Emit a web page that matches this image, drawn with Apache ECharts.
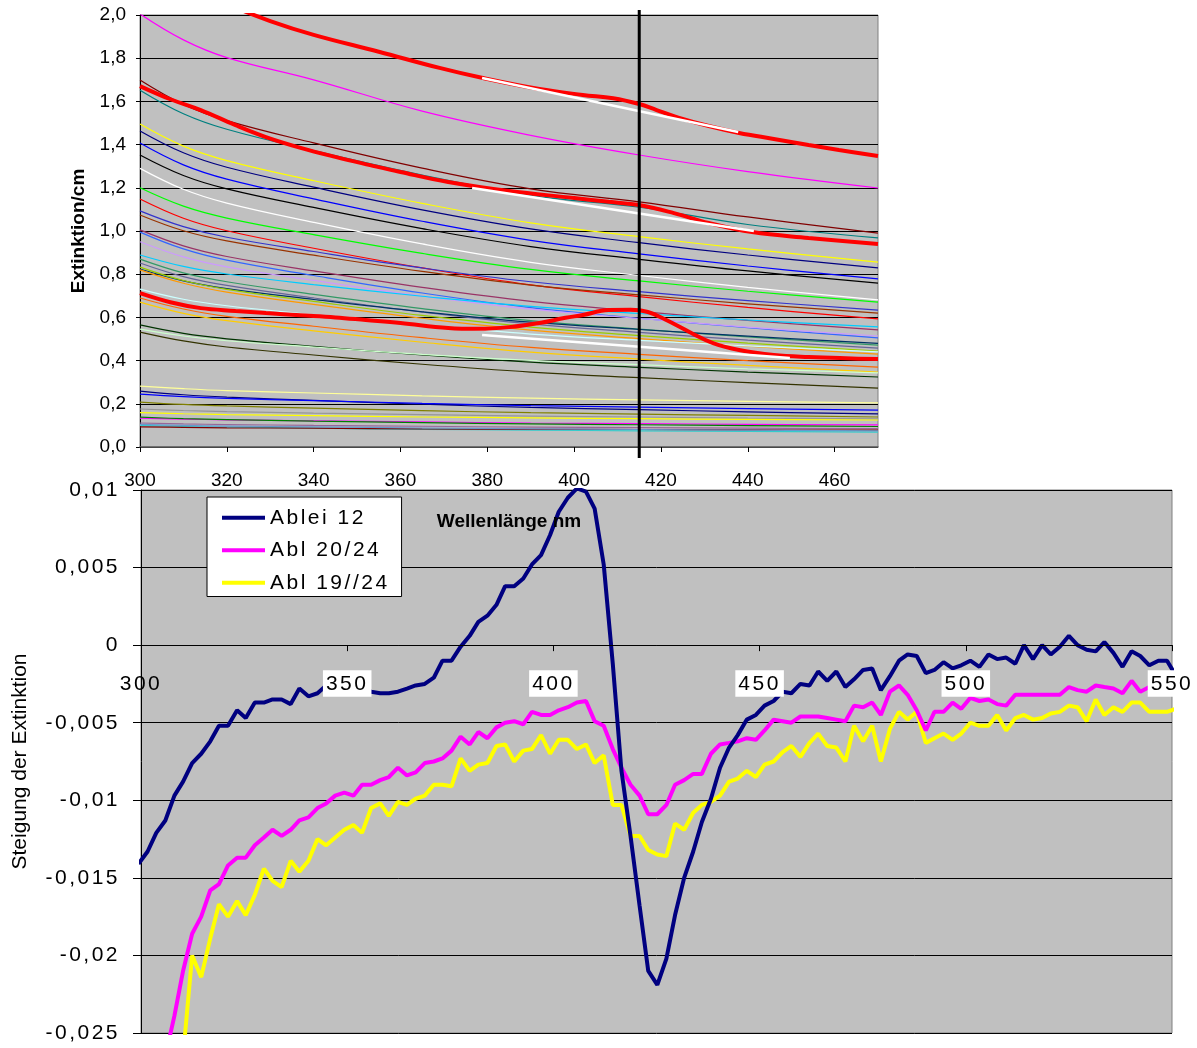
<!DOCTYPE html>
<html><head><meta charset="utf-8">
<script src="https://cdn.jsdelivr.net/npm/echarts@6/dist/echarts.min.js"></script>
<style>html,body{margin:0;padding:0;background:#fff}#c{width:1197px;height:1048px}</style>
</head><body><div id="c"></div>
<script>
// Letter-spaced text for fonts declared with the "sans-serif" fallback (bottom chart texts)
(function () {
  const P = CanvasRenderingContext2D.prototype;
  const setLS = function (ctx) {
    if (!('letterSpacing' in ctx)) return;
    ctx.letterSpacing = /sans-serif/.test(ctx.font) ? '2.5px' : '0px';
  };
  ['fillText', 'strokeText', 'measureText'].forEach(function (fn) {
    const orig = P[fn];
    P[fn] = function () { setLS(this); return orig.apply(this, arguments); };
  });
})();

// ---------------- DATA: upper chart (Extinktion/cm) ----------------
const topX = [300, 310, 320, 340, 365, 390, 415, 440, 470];
const ext01 = [2.005, 1.885, 1.803, 1.700, 1.555, 1.443, 1.352, 1.275, 1.199];
const ext02 = [1.699, 1.586, 1.511, 1.408, 1.291, 1.195, 1.135, 1.065, 0.990];
const ext03 = [1.652, 1.543, 1.471, 1.372, 1.259, 1.165, 1.110, 1.030, 0.968];
const ext04 = [1.495, 1.393, 1.326, 1.233, 1.128, 1.038, 0.974, 0.917, 0.856];
const ext05 = [1.463, 1.362, 1.295, 1.203, 1.098, 1.010, 0.946, 0.889, 0.829];
const ext06 = [1.407, 1.306, 1.240, 1.149, 1.045, 0.957, 0.894, 0.838, 0.778];
const ext07 = [1.352, 1.257, 1.195, 1.109, 1.011, 0.928, 0.869, 0.815, 0.759];
const ext08 = [1.290, 1.193, 1.129, 1.040, 0.940, 0.855, 0.794, 0.739, 0.681];
const ext09 = [1.200, 1.115, 1.060, 0.983, 0.896, 0.822, 0.769, 0.721, 0.671];
const ext10 = [1.148, 1.059, 1.001, 0.920, 0.829, 0.751, 0.696, 0.646, 0.593];
const ext11 = [1.093, 1.020, 0.971, 0.905, 0.829, 0.765, 0.719, 0.678, 0.634];
const ext12 = [1.074, 1.001, 0.954, 0.888, 0.813, 0.749, 0.704, 0.663, 0.620];
const ext13 = [1.005, 0.931, 0.882, 0.815, 0.739, 0.674, 0.628, 0.586, 0.542];
const ext14 = [0.995, 0.917, 0.865, 0.794, 0.713, 0.645, 0.596, 0.552, 0.505];
const ext15 = [0.950, 0.880, 0.834, 0.771, 0.699, 0.638, 0.595, 0.555, 0.514];
const ext16 = [0.889, 0.836, 0.801, 0.752, 0.698, 0.651, 0.618, 0.588, 0.556];
const ext17 = [0.870, 0.806, 0.765, 0.707, 0.641, 0.585, 0.546, 0.510, 0.472];
const ext18 = [0.852, 0.789, 0.748, 0.690, 0.625, 0.570, 0.531, 0.495, 0.458];
const ext19 = [0.824, 0.769, 0.733, 0.683, 0.626, 0.578, 0.544, 0.513, 0.480];
const ext20 = [0.833, 0.771, 0.730, 0.674, 0.609, 0.555, 0.516, 0.481, 0.444];
const ext21 = [0.820, 0.758, 0.717, 0.660, 0.596, 0.541, 0.502, 0.467, 0.430];
const ext22 = [0.731, 0.684, 0.654, 0.612, 0.564, 0.523, 0.494, 0.468, 0.440];
const ext23 = [0.690, 0.639, 0.605, 0.559, 0.506, 0.461, 0.429, 0.400, 0.370];
const ext24 = [0.671, 0.619, 0.585, 0.538, 0.485, 0.439, 0.407, 0.378, 0.347];
const ext25 = [0.565, 0.526, 0.501, 0.466, 0.426, 0.393, 0.369, 0.347, 0.324];
const ext26 = [0.546, 0.514, 0.492, 0.463, 0.429, 0.401, 0.381, 0.362, 0.343];
const ext27 = [0.532, 0.491, 0.463, 0.426, 0.383, 0.347, 0.321, 0.298, 0.273];
const ext28 = [0.282, 0.270, 0.261, 0.250, 0.237, 0.226, 0.218, 0.211, 0.204];
const ext29 = [0.259, 0.242, 0.231, 0.216, 0.198, 0.183, 0.173, 0.163, 0.153];
const ext30 = [0.245, 0.233, 0.225, 0.215, 0.202, 0.192, 0.185, 0.178, 0.171];
const ext31 = [0.208, 0.197, 0.190, 0.180, 0.168, 0.159, 0.152, 0.146, 0.139];
const ext32 = [0.176, 0.169, 0.164, 0.157, 0.150, 0.143, 0.139, 0.134, 0.130];
const ext33 = [0.159, 0.154, 0.150, 0.145, 0.139, 0.135, 0.131, 0.128, 0.125];
const ext34 = [0.134, 0.129, 0.126, 0.121, 0.116, 0.111, 0.108, 0.105, 0.102];
const ext35 = [0.138, 0.131, 0.127, 0.120, 0.113, 0.107, 0.103, 0.099, 0.095];
const ext36 = [0.111, 0.107, 0.104, 0.100, 0.096, 0.092, 0.090, 0.087, 0.085];
const ext37 = [0.100, 0.095, 0.092, 0.087, 0.082, 0.078, 0.075, 0.072, 0.069];
const ext38 = [0.093, 0.091, 0.089, 0.087, 0.084, 0.082, 0.081, 0.079, 0.078];
const ext39 = [0.105, 0.100, 0.097, 0.093, 0.088, 0.084, 0.081, 0.078, 0.075];
const thinCurves = [ext01, ext02, ext03, ext04, ext05, ext06, ext07, ext08, ext09, ext10,
  ext11, ext12, ext13, ext14, ext15, ext16, ext17, ext18, ext19, ext20,
  ext21, ext22, ext23, ext24, ext25, ext26, ext27, ext28, ext29, ext30,
  ext31, ext32, ext33, ext34, ext35, ext36, ext37, ext38, ext39];
const thinColors = ['#FF00FF', '#800000', '#008080', '#FFFF00', '#000080', '#0000FF', '#000000', '#FFFFFF', '#00FF00', '#FF0000',
  '#3333CC', '#993300', '#993366', '#3366FF', '#CC99FF', '#00CCFF', '#339966', '#666699', '#003366', '#99CC00',
  '#FF9900', '#CCFFFF', '#FF6600', '#FFCC00', '#003300', '#CCFFCC', '#333300', '#FFFF99', '#000080', '#0000FF',
  '#808000', '#969696', '#FFFF00', '#FF00FF', '#008000', '#996699', '#33CCCC', '#800000', '#6699CC'];

const red1X = [300, 310, 320, 330, 340, 355, 369, 379, 392, 402, 409, 415, 419, 424, 431, 438, 446, 454, 461, 470];
const red1Y = [2.24, 2.135, 2.05, 1.972, 1.908, 1.83, 1.755, 1.708, 1.657, 1.630, 1.615, 1.588, 1.560, 1.525, 1.486, 1.454, 1.426, 1.398, 1.375, 1.347];
const red2X = [300, 307, 314, 322, 329, 337, 345, 353, 360, 371, 385, 400, 408, 415, 423, 431, 441, 454, 470];
const red2Y = [1.671, 1.61, 1.56, 1.49, 1.435, 1.385, 1.343, 1.305, 1.273, 1.227, 1.185, 1.153, 1.135, 1.12, 1.083, 1.037, 0.995, 0.968, 0.94];
const red3X = [300, 307, 314, 322, 329, 337, 345, 352, 360, 371, 378, 385, 392, 398, 402, 408, 413, 417, 421, 427, 432, 438, 446, 454, 470];
const red3Y = [0.712, 0.67, 0.643, 0.63, 0.62, 0.61, 0.60, 0.588, 0.574, 0.551, 0.547, 0.555, 0.574, 0.598, 0.611, 0.634, 0.635, 0.625, 0.590, 0.528, 0.481, 0.449, 0.426, 0.417, 0.407];

const chordX = [[378.8, 437.8], [376.5, 441.4], [378.8, 449.7]];
const chordY = [[1.708, 1.458], [1.199, 1.000], [0.518, 0.412]];
const markerWavelength = 415;

// ---------------- DATA: lower chart (Steigung der Extinktion) ----------------
const wavelength = [299.4, 301.6, 303.7, 305.9, 308.1, 310.2, 312.4, 314.6, 316.8, 318.9,
  321.1, 323.3, 325.4, 327.6, 329.8, 331.9, 334.1, 336.3, 338.4, 340.6,
  342.8, 344.9, 347.1, 349.3, 351.5, 353.6, 355.8, 358.0, 360.1, 362.3,
  364.5, 366.6, 368.8, 371.0, 373.1, 375.3, 377.5, 379.7, 381.8, 384.0,
  386.2, 388.3, 390.5, 392.7, 394.8, 397.0, 399.2, 401.3, 403.5, 405.7,
  407.9, 410.0, 412.2, 414.4, 416.5, 418.7, 420.9, 423.0, 425.2, 427.4,
  429.5, 431.7, 433.9, 436.0, 438.2, 440.4, 442.6, 444.7, 446.9, 449.1,
  451.2, 453.4, 455.6, 457.7, 459.9, 462.1, 464.2, 466.4, 468.6, 470.8,
  472.9, 475.1, 477.3, 479.4, 481.6, 483.8, 485.9, 488.1, 490.3, 492.4,
  494.6, 496.8, 498.9, 501.1, 503.3, 505.5, 507.6, 509.8, 512.0, 514.1,
  516.3, 518.5, 520.6, 522.8, 525.0, 527.1, 529.3, 531.5, 533.6, 535.8,
  538.0, 540.2, 542.3, 544.5, 546.7, 548.8, 551.0];
const ablei12 = [-0.0141, -0.0133, -0.0121, -0.0113, -0.0097, -0.0088, -0.0076, -0.0070, -0.0062, -0.0052,
  -0.0052, -0.0042, -0.0047, -0.0037, -0.0037, -0.0035, -0.0035, -0.0038, -0.0028, -0.0033,
  -0.0031, -0.0026, -0.0025, -0.0026, -0.0027, -0.0028, -0.0030, -0.0031, -0.0031, -0.0030,
  -0.0028, -0.0026, -0.0025, -0.0021, -0.0010, -0.0010, -0.0001, 0.0006, 0.0015, 0.0019,
  0.0026, 0.0038, 0.0038, 0.0043, 0.0052, 0.0058, 0.0071, 0.0086, 0.0095, 0.0101,
  0.0099, 0.0088, 0.0052, -0.0012, -0.0081, -0.0123, -0.0168, -0.0210, -0.0219, -0.0202,
  -0.0174, -0.0150, -0.0133, -0.0114, -0.0099, -0.0079, -0.0066, -0.0058, -0.0048, -0.0045,
  -0.0039, -0.0036, -0.0030, -0.0031, -0.0025, -0.0026, -0.0017, -0.0023, -0.0017, -0.0027,
  -0.0022, -0.0016, -0.0015, -0.0029, -0.0020, -0.0010, -0.0006, -0.0007, -0.0018, -0.0016,
  -0.0011, -0.0015, -0.0013, -0.0010, -0.0014, -0.0006, -0.0009, -0.0008, -0.0012, 0.0000,
  -0.0009, 0.0000, -0.0006, -0.0001, 0.0006, 0.0000, -0.0003, -0.0004, 0.0002, -0.0005,
  -0.0014, -0.0004, -0.0007, -0.0013, -0.0010, -0.0010, -0.0020];
const abl2024 = [-0.0350, -0.0320, -0.0290, -0.0265, -0.0239, -0.0210, -0.0186, -0.0175, -0.0158, -0.0154,
  -0.0142, -0.0137, -0.0137, -0.0129, -0.0124, -0.0119, -0.0123, -0.0119, -0.0113, -0.0111,
  -0.0105, -0.0102, -0.0097, -0.0095, -0.0097, -0.0090, -0.0090, -0.0087, -0.0085, -0.0079,
  -0.0084, -0.0082, -0.0076, -0.0075, -0.0073, -0.0068, -0.0059, -0.0064, -0.0056, -0.0060,
  -0.0053, -0.0050, -0.0049, -0.0051, -0.0043, -0.0045, -0.0045, -0.0042, -0.0040, -0.0037,
  -0.0036, -0.0049, -0.0052, -0.0067, -0.0079, -0.0090, -0.0097, -0.0109, -0.0109, -0.0103,
  -0.0090, -0.0087, -0.0083, -0.0083, -0.0070, -0.0064, -0.0063, -0.0062, -0.0060, -0.0061,
  -0.0055, -0.0048, -0.0049, -0.0050, -0.0046, -0.0046, -0.0046, -0.0047, -0.0048, -0.0049,
  -0.0039, -0.0040, -0.0037, -0.0045, -0.0030, -0.0026, -0.0032, -0.0042, -0.0055, -0.0043,
  -0.0043, -0.0037, -0.0041, -0.0034, -0.0036, -0.0035, -0.0038, -0.0039, -0.0032, -0.0032,
  -0.0032, -0.0032, -0.0032, -0.0032, -0.0027, -0.0029, -0.0030, -0.0026, -0.0027, -0.0028,
  -0.0031, -0.0023, -0.0030, -0.0027, -0.0030, -0.0026, -0.0025];
const abl1924 = [-0.0400, -0.0370, -0.0340, -0.0310, -0.0285, -0.0265, -0.0200, -0.0214, -0.0189, -0.0167,
  -0.0175, -0.0165, -0.0174, -0.0161, -0.0144, -0.0152, -0.0156, -0.0139, -0.0146, -0.0139,
  -0.0125, -0.0129, -0.0124, -0.0119, -0.0116, -0.0121, -0.0105, -0.0102, -0.0110, -0.0101,
  -0.0103, -0.0099, -0.0097, -0.0090, -0.0090, -0.0091, -0.0073, -0.0081, -0.0077, -0.0076,
  -0.0065, -0.0064, -0.0075, -0.0068, -0.0067, -0.0058, -0.0070, -0.0061, -0.0061, -0.0067,
  -0.0064, -0.0076, -0.0071, -0.0103, -0.0103, -0.0123, -0.0123, -0.0132, -0.0135, -0.0136,
  -0.0115, -0.0119, -0.0108, -0.0103, -0.0101, -0.0097, -0.0088, -0.0086, -0.0081, -0.0085,
  -0.0077, -0.0075, -0.0069, -0.0065, -0.0072, -0.0063, -0.0057, -0.0065, -0.0066, -0.0075,
  -0.0052, -0.0062, -0.0052, -0.0075, -0.0054, -0.0043, -0.0048, -0.0043, -0.0063, -0.0060,
  -0.0057, -0.0061, -0.0057, -0.0050, -0.0052, -0.0052, -0.0045, -0.0055, -0.0047, -0.0045,
  -0.0048, -0.0047, -0.0044, -0.0043, -0.0039, -0.0040, -0.0049, -0.0035, -0.0045, -0.0040,
  -0.0043, -0.0037, -0.0037, -0.0043, -0.0043, -0.0043, -0.0041];
const seriesNames = ['Ablei 12', 'Abl 20/24', 'Abl 19//24'];
const seriesColors = ['#000080', '#FF00FF', '#FFFF00'];

// ---------------- CHART ----------------
const NORMAL = 'Liberation Sans';
const SPACED = 'Liberation Sans, sans-serif';
const zip = (xs, ys) => xs.map((x, i) => [x, ys[i]]);

const series = [];
thinCurves.forEach((c, i) => {
  series.push({ type: 'line', xAxisIndex: 0, yAxisIndex: 0, data: zip(topX, c), showSymbol: false,
    smooth: 0.4, silent: true, lineStyle: { width: 1.2, color: thinColors[i] }, z: 2 });
});
[[red1X, red1Y], [red2X, red2Y], [red3X, red3Y]].forEach(([xs, ys]) => {
  series.push({ type: 'line', xAxisIndex: 0, yAxisIndex: 0, data: zip(xs, ys), showSymbol: false,
    smooth: 0.4, silent: true, lineStyle: { width: 4, color: '#FF0000' }, z: 3 });
});
chordX.forEach((xs, i) => {
  series.push({ type: 'line', xAxisIndex: 0, yAxisIndex: 0, data: zip(xs, chordY[i]), showSymbol: false,
    silent: true, lineStyle: { width: 2.5, color: '#FFFFFF' }, z: 4 });
});
[ablei12, abl2024, abl1924].forEach((vals, i) => {
  series.push({ name: seriesNames[i], type: 'line', xAxisIndex: 1, yAxisIndex: 1, data: zip(wavelength, vals),
    showSymbol: false, color: seriesColors[i], lineStyle: { width: 4, color: seriesColors[i] }, z: 3 - i * 0.1 });
});

const fmtComma = v => parseFloat(v.toFixed(4)).toString().replace('.', ',');

const option = {
  animation: false,
  textStyle: { fontFamily: NORMAL },
  grid: [
    { left: 140, top: 15, width: 738, height: 432, show: true, backgroundColor: '#C0C0C0', borderColor: '#808080', borderWidth: 1, containLabel: false, outerBoundsMode: 'none' },
    { left: 141, top: 490, width: 1031, height: 543, show: true, backgroundColor: '#C0C0C0', borderColor: '#808080', borderWidth: 1, containLabel: false, outerBoundsMode: 'none' }
  ],
  legend: {
    data: seriesNames, orient: 'vertical', left: 207, top: 497, icon: 'rect', itemWidth: 43, itemHeight: 4,
    itemGap: 9, padding: [9, 12, 2, 15], backgroundColor: '#FFFFFF', borderColor: '#000000', borderWidth: 1,
    textStyle: { fontSize: 21, fontFamily: SPACED, color: '#000' }, selectedMode: false, z: 20
  },
  xAxis: [
    { gridIndex: 0, type: 'value', min: 300, max: 470, interval: 20, z: 10,
      name: 'Wellenlänge nm', nameLocation: 'middle', nameGap: 65,
      nameTextStyle: { fontFamily: NORMAL, fontWeight: 'bold', fontSize: 19, color: '#000' },
      axisLine: { show: true, onZero: false, lineStyle: { color: '#606060', width: 1.5 } },
      axisTick: { show: true, length: 5, lineStyle: { color: '#000' } },
      axisLabel: { margin: 24, fontSize: 19, color: '#000', showMaxLabel: false },
      splitLine: { show: false } },
    { gridIndex: 1, type: 'value', min: 300, max: 550, interval: 50, z: 10, position: 'bottom', offset: 0,
      axisLine: { show: true, onZero: false, lineStyle: { color: '#000' } },
      axisTick: { show: true, length: 6, lineStyle: { color: '#000' } },
      axisLabel: { margin: 25, fontSize: 21, fontFamily: SPACED, color: '#000',
        formatter: v => (v === 300 ? '{p|' + v + '}' : '{b|' + v + '}'),
        rich: {
          p: { fontSize: 21, fontFamily: SPACED, color: '#000', padding: [2, 3, 1, 3] },
          b: { fontSize: 21, fontFamily: SPACED, color: '#000', padding: [2, 3, 1, 3], backgroundColor: '#FFFFFF' }
        } },
      splitLine: { show: false } }
  ],
  yAxis: [
    { gridIndex: 0, type: 'value', min: 0, max: 2, interval: 0.2,
      name: 'Extinktion/cm', nameLocation: 'middle', nameGap: 50,
      nameTextStyle: { fontFamily: NORMAL, fontWeight: 'bold', fontSize: 19, color: '#000' },
      axisLine: { show: true, onZero: false, lineStyle: { color: '#000' } },
      axisTick: { show: true, length: 4, lineStyle: { color: '#000' } },
      axisLabel: { margin: 14, fontSize: 19, color: '#000', formatter: v => v.toFixed(1).replace('.', ',') },
      splitLine: { show: true, lineStyle: { color: '#000', width: 1 } } },
    { gridIndex: 1, type: 'value', min: -0.025, max: 0.01, interval: 0.005,
      name: 'Steigung der Extinktion', nameLocation: 'middle', nameGap: 110,
      nameTextStyle: { fontFamily: NORMAL, fontSize: 21, color: '#000' },
      axisLine: { show: true, onZero: false, lineStyle: { color: '#000' } },
      axisTick: { show: true, length: 8, lineStyle: { color: '#000' } },
      axisLabel: { margin: 21, fontSize: 21, fontFamily: SPACED, color: '#000', formatter: fmtComma },
      splitLine: { show: true, lineStyle: { color: '#000', width: 1 } } }
  ],
  series: series
};

const chart = echarts.init(document.getElementById('c'), null, { renderer: 'canvas' });
chart.setOption(option);

// move the lower wavelength axis onto the zero line of the slope axis
const yZero = chart.convertToPixel({ yAxisIndex: 1 }, 0);
const yBottom = chart.convertToPixel({ yAxisIndex: 1 }, -0.025);
// vertical marker line at 415 nm (slightly overshooting the plot like the original)
const pTop = chart.convertToPixel({ xAxisIndex: 0, yAxisIndex: 0 }, [markerWavelength, 2]);
const pBot = chart.convertToPixel({ xAxisIndex: 0, yAxisIndex: 0 }, [markerWavelength, 0]);
chart.setOption({
  xAxis: [{}, { offset: yZero - yBottom }],
  graphic: [{ type: 'line', z: 100, silent: true,
    shape: { x1: pTop[0], y1: pTop[1] - 5, x2: pBot[0], y2: pBot[1] + 11 },
    style: { stroke: '#000', lineWidth: 3 } }]
});
</script></body></html>
